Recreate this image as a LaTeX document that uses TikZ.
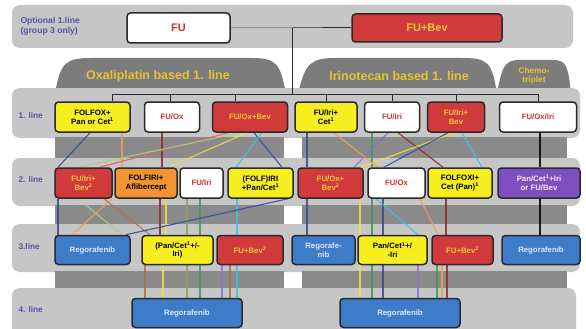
\documentclass[tikz,border=0pt]{standalone}
\usepackage{fontspec}
\setmainfont{Liberation Sans}
\usetikzlibrary{calc}
\pgfdeclarelayer{back}\pgfdeclarelayer{mid}
\pgfsetlayers{back,mid,main}
\definecolor{lgray}{HTML}{C6C6C6}
\definecolor{dgray}{HTML}{8A8A8A}
\definecolor{tabgray}{HTML}{7C7C7C}
\definecolor{gold}{HTML}{E8C232}
\definecolor{bred}{HTML}{D03A3A}
\definecolor{byellow}{HTML}{F6EE1E}
\definecolor{borange}{HTML}{F29433}
\definecolor{bblue}{HTML}{3D7CC9}
\definecolor{bpurple}{HTML}{7E4FC0}
\definecolor{bborder}{HTML}{2A2A2A}
\definecolor{lab}{HTML}{5555A8}
\definecolor{redtxt}{HTML}{D03030}
\definecolor{ylwtxt}{HTML}{F6C640}
\definecolor{cdblue}{HTML}{3A4A8A}
\definecolor{corange}{HTML}{F0A050}
\definecolor{cdred}{HTML}{8A2A2A}
\definecolor{cred}{HTML}{E06060}
\definecolor{cyellow}{HTML}{ECE43A}
\definecolor{clgreen}{HTML}{A8D080}
\definecolor{cgreen}{HTML}{3A9A5A}
\definecolor{cblue}{HTML}{3050A8}
\definecolor{ccyan}{HTML}{40C0E0}
\definecolor{cpurple}{HTML}{9070D0}
\definecolor{cbrown}{HTML}{B07050}
\definecolor{colive}{HTML}{90A060}
\newcommand\con[5]{\draw[conn,#1] (#2.south -| #3,0) -- (#4.north -| #5,0);}
\begin{document}
\begin{tikzpicture}[x=1pt,y=-1pt,
  bx/.style={draw=bborder,line width=1.5pt,rounded corners=3.5pt,align=center,
    font=\fontsize{7.8}{8.8}\selectfont\bfseries,inner sep=1pt},
  rbox/.style={bx,fill=bred,text=ylwtxt},
  wbox/.style={bx,fill=white,text=redtxt},
  ybox/.style={bx,fill=byellow,text=black},
  obox/.style={bx,fill=borange,text=black},
  blbox/.style={bx,fill=bblue,text=blue!10},
  pbox/.style={bx,fill=bpurple,text=purple!10},
  rowlab/.style={text=lab,font=\fontsize{8.3}{9}\selectfont\bfseries,anchor=west},
  tabtxt/.style={text=gold,font=\fontsize{12.5}{13}\selectfont\bfseries},
  conn/.style={line width=1.2pt,opacity=0.85},
  link/.style={draw=bborder,line width=1pt}]
\useasboundingbox (0,0) rectangle (586,329);
\begin{pgfonlayer}{back}
\fill[white] (0,0) rectangle (586,329);
\fill[lgray,rounded corners=8pt] (12,5) rectangle (573,48);
\fill[tabgray] (55,94) .. controls (60,62) and (66,58) .. (92,58) -- (250,58) .. controls (276,58) and (280,62) .. (286,94) -- cycle;
\fill[tabgray] (298,94) .. controls (305,62) and (312,58) .. (336,58) -- (462,58) .. controls (488,58) and (492,62) .. (497,94) -- cycle;
\fill[tabgray] (497,94) .. controls (502,64) and (506,60) .. (520,60) -- (552,60) .. controls (566,60) and (568,64) .. (571,94) -- cycle;
\fill[lgray,rounded corners=8pt] (12,88) rectangle (580,138);
\fill[dgray] (55,137) rectangle (284,160);
\fill[dgray] (302,137) rectangle (567,160);
\fill[lgray,rounded corners=8pt] (12,158) rectangle (580,206);
\fill[dgray] (55,205) rectangle (284,225);
\fill[dgray] (302,205) rectangle (567,225);
\fill[lgray,rounded corners=8pt] (12,224) rectangle (580,272);
\fill[dgray] (55,271) rectangle (284,290);
\fill[dgray] (302,271) rectangle (567,290);
\fill[lgray,rounded corners=8pt] (12,288) rectangle (576,340);
\end{pgfonlayer}
% labels
\node[text=lab,font=\fontsize{8.6}{9.6}\selectfont\bfseries,align=left,anchor=west] (opt) at (17,26) {Optional 1.line\\(group 3 only)};
\node[rowlab] (l1) at (15,116) {1. line};
\node[rowlab] (l2) at (15,180) {2. line};
\node[rowlab] (l3) at (15,247) {3.line};
\node[rowlab] (l4) at (15,310) {4. line};
\node[tabtxt] (tox) at (158,76) {Oxaliplatin based 1. line};
\node[tabtxt] (tir) at (399,76) {Irinotecan based 1. line};
\node[text=gold,font=\fontsize{8.3}{9}\selectfont\bfseries,align=center] (tch) at (534,76) {Chemo-\\triplet};
% top
\node[wbox,minimum width=103pt,minimum height=30pt,font=\fontsize{11}{12}\selectfont\bfseries] (fu) at (178.5,28) {FU};
\node[rbox,minimum width=150pt,minimum height=28pt,font=\fontsize{11}{12}\selectfont\bfseries] (fubev) at (427,28) {FU+Bev};
% row 1
\node[ybox,minimum width=75pt,minimum height=30pt] (o1) at (92.5,117) {FOLFOX+\\Pan or Cet\textsuperscript{1}};
\node[wbox,minimum width=55pt,minimum height=30pt] (o2) at (172,117) {FU/Ox};
\node[rbox,minimum width=75pt,minimum height=30pt] (o3) at (250,117) {FU/Ox+Bev};
\node[ybox,minimum width=62pt,minimum height=30pt] (i1) at (326,117) {FU/Iri+\\Cet\textsuperscript{1}};
\node[wbox,minimum width=55pt,minimum height=30pt] (i2) at (392,117) {FU/Iri};
\node[rbox,minimum width=57pt,minimum height=30pt] (i3) at (456,117) {FU/Iri+\\Bev};
\node[wbox,minimum width=77pt,minimum height=30pt] (t1) at (538,117) {FU/Ox/Iri};
% row 2
\node[rbox,minimum width=57pt,minimum height=30pt] (a) at (83.5,183) {FU/Iri+\\Bev\textsuperscript{2}};
\node[obox,minimum width=62pt,minimum height=30pt] (b) at (146,183) {FOLFIRI+\\Aflibercept};
\node[wbox,minimum width=43pt,minimum height=30pt] (c) at (201.5,183) {FU/Iri};
\node[ybox,minimum width=65pt,minimum height=30pt] (d) at (260.5,183) {(FOLF)IRI\\+Pan/Cet\textsuperscript{1}};
\node[rbox,minimum width=65pt,minimum height=30pt] (e) at (330.5,183) {FU/Ox+\\Bev\textsuperscript{2}};
\node[wbox,minimum width=57pt,minimum height=30pt] (f) at (396.5,183) {FU/Ox};
\node[ybox,minimum width=64pt,minimum height=30pt] (g) at (460,183) {FOLFOXI+\\Cet (Pan)\textsuperscript{1}};
\node[pbox,minimum width=82pt,minimum height=30pt] (h) at (539,183) {Pan/Cet\textsuperscript{1}+Iri\\or FU/Bev};
% row 3
\node[blbox,minimum width=75pt,minimum height=29pt] (p) at (92.5,250) {Regorafenib};
\node[ybox,minimum width=71pt,minimum height=29pt] (q) at (177.5,250) {(Pan/Cet\textsuperscript{1}+/-\\Iri)};
\node[rbox,minimum width=66pt,minimum height=29pt] (r) at (250,250) {FU+Bev\textsuperscript{2}};
\node[blbox,minimum width=63pt,minimum height=29pt] (s) at (323.5,250) {Regorafe-\\nib};
\node[ybox,minimum width=69pt,minimum height=29pt] (t) at (392.5,250) {Pan/Cet\textsuperscript{1}+/\\-Iri};
\node[rbox,minimum width=61pt,minimum height=29pt] (u) at (462.5,250) {FU+Bev\textsuperscript{2}};
\node[blbox,minimum width=78pt,minimum height=29pt] (v) at (541,250) {Regorafenib};
% row 4
\node[blbox,minimum width=110pt,minimum height=29pt] (w1) at (187,313) {Regorafenib};
\node[blbox,minimum width=120pt,minimum height=29pt] (w2) at (400,313) {Regorafenib};
% hub connectors
\coordinate (j) at (292,28);
\coordinate (hub) at (292,94);
\begin{pgfonlayer}{mid}
\draw[link] (fu.east) -- (j) -- (fubev.west);
\draw[link] (j) -- (hub);
\draw[link] (hub) -| (o1.north -| 112,0);
\draw[link] (hub) -| (o2.north -| 170,0);
\draw[link] (hub) -| (o3.north -| 235,0);
\draw[link] (hub) -| (i1.north);
\draw[link] (hub) -| (i2.north);
\draw[link] (hub) -| (i3.north);
\draw[link] (hub) -| (t1.north);
% row1 -> row2
\con{cdblue}{o1}{90}{a}{58}
\con{corange}{o1}{122}{b}{122}
\con{cdred}{o2}{162}{b}{162}
\con{cred}{o3}{228}{a}{100}
\con{clgreen}{o3}{240}{a}{78}
\con{cyellow}{o3}{247}{b}{168}
\con{cblue}{o3}{254}{d}{282}
\con{ccyan}{o3}{262}{d}{236}
\con{cdblue}{i1}{307}{e}{307}
\con{corange}{i1}{334}{f}{378}
\con{cgreen}{i2}{372}{f}{372}
\con{cpurple}{i2}{388}{e}{354}
\con{cdred}{i2}{398}{g}{443}
\con{cyellow}{i3}{454}{e}{361}
\con{cblue}{i3}{448}{f}{384}
\con{ccyan}{i3}{462}{g}{482}
\con{black}{t1}{540}{h}{540}
% row2 -> row3
\con{cdblue}{a}{58}{p}{58}
\con{corange}{a}{112}{p}{72}
\con{clgreen}{a}{78}{p}{122}
\con{cbrown}{a}{104}{q}{150}
\con{cdred}{b}{160}{q}{160}
\con{cyellow}{b}{166}{q}{166}
\con{colive}{c}{187}{q}{187}
\con{cgreen}{c}{200}{q}{200}
\con{ccyan}{d}{237}{r}{237}
\con{cblue}{d}{288}{p}{126}
\con{cdblue}{e}{307}{s}{307}
\con{cyellow}{e}{360}{t}{360}
\con{cgreen}{f}{372}{t}{372}
\con{cdblue}{f}{383}{t}{383}
\con{ccyan}{f}{376}{t}{418}
\con{corange}{g}{420}{u}{438}
\con{cdred}{g}{446}{u}{446}
\con{black}{h}{540}{v}{540}
% row3 -> row4
\con{cbrown}{q}{145}{w1}{145}
\con{cyellow}{q}{163}{w1}{163}
\con{colive}{q}{187}{w1}{187}
\con{cgreen}{q}{200}{w1}{200}
\con{cpurple}{r}{222}{w1}{222}
\con{cbrown}{r}{230}{w1}{230}
\con{ccyan}{r}{237}{w1}{237}
\con{cyellow}{t}{360}{w2}{360}
\con{cgreen}{t}{372}{w2}{372}
\con{cdblue}{t}{383}{w2}{383}
\con{cpurple}{t}{418}{w2}{418}
\con{cgreen}{u}{437}{w2}{437}
\con{corange}{u}{442}{w2}{442}
\con{cdred}{u}{447}{w2}{447}
\end{pgfonlayer}
\end{tikzpicture}
\end{document}
